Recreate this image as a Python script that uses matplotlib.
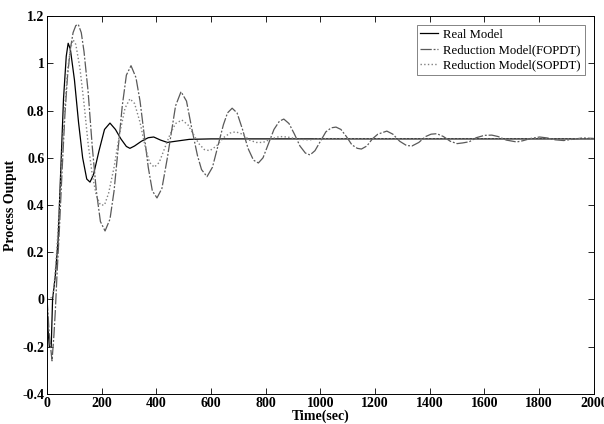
import matplotlib.pyplot as plt
from matplotlib.ticker import FuncFormatter

# values
t_real = [0, 3, 8, 15, 20, 30, 40, 50, 60, 70, 77, 85, 100, 115, 130, 145, 157,
          170, 190, 210, 230, 250, 270, 290, 303, 320, 345, 370, 390, 415, 440,
          470, 520, 600, 800, 1200, 1600, 2000]
y_real = [0, -0.12, -0.2, -0.2, 0.0, 0.1, 0.25, 0.55, 0.85, 1.03, 1.085, 1.06,
          0.93, 0.75, 0.6, 0.51, 0.497, 0.53, 0.63, 0.72, 0.747, 0.72, 0.68,
          0.648, 0.64, 0.65, 0.67, 0.685, 0.688, 0.675, 0.665, 0.67, 0.678,
          0.68, 0.68, 0.68, 0.68, 0.68]

t_fopdt = [0, 8, 18, 25, 30, 36, 45, 55, 65, 75, 85, 95, 105, 114, 125, 135,
           150, 165, 180, 195, 212, 230, 245, 260, 275, 290, 307, 325, 340,
           355, 370, 385, 402, 420, 440, 455, 470, 490, 510, 530, 550, 565,
           585, 605, 625, 645, 660, 677, 695, 715, 735, 755, 773, 790, 810,
           830, 850, 866, 885, 905, 925, 945, 962, 980, 1000, 1020, 1040, 1057,
           1075, 1095, 1115, 1135, 1150, 1170, 1190, 1210, 1243, 1265, 1290,
           1315, 1335, 1360, 1385, 1405, 1426, 1450, 1475, 1500, 1521, 1545,
           1570, 1600, 1627, 1650, 1680, 1718, 1740, 1770, 1802, 1830, 1860,
           1890, 1920, 1960, 2000]
y_fopdt = [0, -0.15, -0.26, -0.15, -0.05, 0.1, 0.3, 0.55, 0.78, 0.95, 1.06,
           1.13, 1.16, 1.165, 1.13, 1.05, 0.88, 0.65, 0.46, 0.33, 0.29, 0.34,
           0.46, 0.64, 0.82, 0.95, 0.99, 0.94, 0.84, 0.7, 0.56, 0.46, 0.43,
           0.47, 0.6, 0.71, 0.82, 0.88, 0.84, 0.72, 0.61, 0.55, 0.52, 0.56,
           0.65, 0.74, 0.79, 0.81, 0.79, 0.72, 0.64, 0.59, 0.578, 0.6, 0.66,
           0.72, 0.755, 0.764, 0.745, 0.7, 0.65, 0.62, 0.612, 0.63, 0.67,
           0.71, 0.727, 0.73, 0.72, 0.69, 0.655, 0.64, 0.637, 0.65, 0.68,
           0.7, 0.713, 0.7, 0.67, 0.652, 0.65, 0.665, 0.69, 0.7, 0.702, 0.69,
           0.67, 0.66, 0.663, 0.668, 0.685, 0.695, 0.696, 0.69, 0.675, 0.667,
           0.672, 0.682, 0.688, 0.684, 0.676, 0.673, 0.678, 0.684, 0.682]

t_sopdt = [0, 20, 25, 35, 45, 55, 65, 75, 85, 95, 105, 120, 135, 150, 165,
           180, 195, 210, 225, 245, 265, 285, 303, 320, 340, 360, 375, 392,
           410, 430, 450, 470, 493, 515, 535, 555, 575, 595, 620, 645, 670,
           690, 715, 740, 765, 790, 820, 850, 880, 920, 960, 1000, 1100, 1500,
           2000]
y_sopdt = [0, 0.01, 0.05, 0.2, 0.4, 0.62, 0.82, 0.97, 1.06, 1.1, 1.08, 0.98,
           0.83, 0.66, 0.53, 0.44, 0.4, 0.4, 0.45, 0.56, 0.7, 0.81, 0.85, 0.83,
           0.75, 0.64, 0.58, 0.56, 0.58, 0.64, 0.7, 0.745, 0.76, 0.74, 0.7,
           0.66, 0.635, 0.63, 0.65, 0.685, 0.705, 0.71, 0.7, 0.675, 0.665,
           0.665, 0.68, 0.69, 0.688, 0.678, 0.676, 0.681, 0.681, 0.68, 0.68]

labels = ['Real Model', 'Reduction Model(FOPDT)', 'Reduction Model(SOPDT)']

plt.rcParams['font.family'] = ['Liberation Serif', 'DejaVu Serif']

fig = plt.figure(figsize=(6.04, 4.24), dpi=100)
ax = fig.add_axes([0.078, 0.071, 0.905, 0.891])

ax.plot(t_real, y_real, '-', color='black', lw=0.9, label=labels[0])
ax.plot(t_fopdt, y_fopdt, color='0.35', lw=0.9,
        linestyle=(0, (9, 1.5, 1.5, 1.5)), label=labels[1])
ax.plot(t_sopdt, y_sopdt, ':', color='0.5', lw=1.0, label=labels[2])

ax.set_xlim(0, 2000)
ax.set_ylim(-0.4, 1.2)
ax.set_xticks(range(0, 2001, 200))
ax.set_yticks([-0.4, -0.2, 0, 0.2, 0.4, 0.6, 0.8, 1.0, 1.2])
ax.yaxis.set_major_formatter(FuncFormatter(lambda v, p: '%g' % round(v, 2)))
ax.tick_params(direction='in', top=True, right=True, length=4, width=0.6,
               labelsize=10, pad=2)
for lab in ax.get_xticklabels() + ax.get_yticklabels():
    lab.set_fontweight('bold')
for s in ax.spines.values():
    s.set_linewidth(0.7)

ax.set_xlabel('Time(sec)', fontsize=10, fontweight='bold', labelpad=0)
ax.set_ylabel('Process Output', fontsize=10, fontweight='bold', labelpad=4)

leg = ax.legend(loc='upper right', fontsize=9.2, frameon=True, fancybox=False,
                handlelength=1.4, handletextpad=0.4, borderpad=0.3,
                labelspacing=0.25, borderaxespad=0.7)
leg.get_frame().set_edgecolor('0.3')
leg.get_frame().set_linewidth(0.6)

fig.savefig('out.png', dpi=100)
